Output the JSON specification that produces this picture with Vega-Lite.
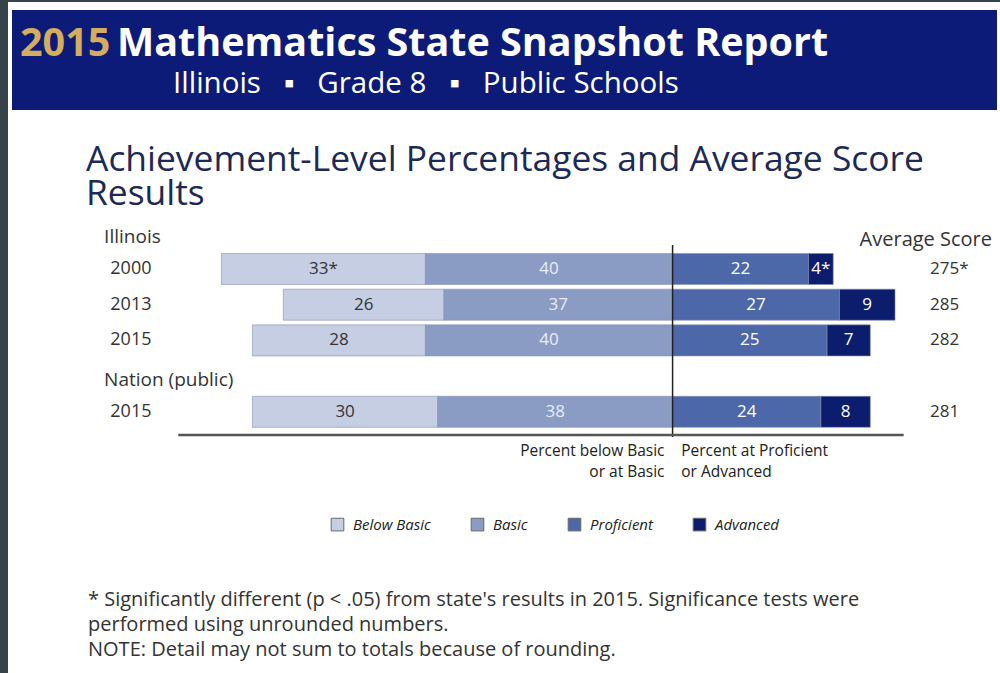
{
  "$schema": "https://vega.github.io/schema/vega-lite/v6.json",
  "width": 1000,
  "height": 673,
  "autosize": {"type": "fit", "contains": "padding"},
  "padding": 0,
  "background": "#ffffff",
  "config": {"view": {"stroke": null}, "font": "Open Sans", "text": {"font": "Open Sans"}},
  "datasets": {
    "levels": [
      {"row": "2000", "level": "Below Basic", "pct": -33, "label": "33*"},
      {"row": "2000", "level": "Basic", "pct": -40, "label": "40"},
      {"row": "2000", "level": "Proficient", "pct": 22, "label": "22"},
      {"row": "2000", "level": "Advanced", "pct": 4, "label": "4*"},
      {"row": "2013", "level": "Below Basic", "pct": -26, "label": "26"},
      {"row": "2013", "level": "Basic", "pct": -37, "label": "37"},
      {"row": "2013", "level": "Proficient", "pct": 27, "label": "27"},
      {"row": "2013", "level": "Advanced", "pct": 9, "label": "9"},
      {"row": "2015", "level": "Below Basic", "pct": -28, "label": "28"},
      {"row": "2015", "level": "Basic", "pct": -40, "label": "40"},
      {"row": "2015", "level": "Proficient", "pct": 25, "label": "25"},
      {"row": "2015", "level": "Advanced", "pct": 7, "label": "7"},
      {"row": "Nation 2015", "level": "Below Basic", "pct": -30, "label": "30"},
      {"row": "Nation 2015", "level": "Basic", "pct": -38, "label": "38"},
      {"row": "Nation 2015", "level": "Proficient", "pct": 24, "label": "24"},
      {"row": "Nation 2015", "level": "Advanced", "pct": 8, "label": "8"}
    ],
    "years": [
      {"row": "2000", "name": "2000"},
      {"row": "2013", "name": "2013"},
      {"row": "2015", "name": "2015"},
      {"row": "Nation 2015", "name": "2015"}
    ],
    "groups": [
      {"row": "Illinois"},
      {"row": "Nation (public)"}
    ],
    "scores": [
      {"row": "2000", "score": "275*"},
      {"row": "2013", "score": "285"},
      {"row": "2015", "score": "282"},
      {"row": "Nation 2015", "score": "281"}
    ]
  },
  "layer": [
    {
      "data": {"values": [{}]},
      "mark": {"type": "rect", "x": 0, "x2": 8, "y": 0, "y2": 673, "fill": "#37434b"},
      "encoding": {}
    },
    {
      "data": {"values": [{}]},
      "mark": {"type": "rect", "x": 0, "x2": 1000, "y": 0, "y2": 2, "fill": "#37434b"},
      "encoding": {}
    },
    {
      "data": {"values": [{}]},
      "mark": {"type": "rect", "x": 12, "x2": 997, "y": 10, "y2": 110, "fill": "#0d1b78"},
      "encoding": {}
    },
    {
      "data": {"values": [{}]},
      "mark": {"type": "text", "x": 20, "y": 56, "align": "left", "baseline": "alphabetic", "fontSize": 39.5, "fontWeight": "bold", "fill": "#d4ad5e", "text": "2015"},
      "encoding": {}
    },
    {
      "data": {"values": [{}]},
      "mark": {"type": "text", "x": 117, "y": 56, "align": "left", "baseline": "alphabetic", "fontSize": 39.5, "fontWeight": "bold", "fill": "#ffffff", "text": "Mathematics State Snapshot Report"},
      "encoding": {}
    },
    {
      "data": {"values": [{}]},
      "mark": {"type": "text", "x": 173, "y": 93, "align": "left", "baseline": "alphabetic", "fontSize": 29.5, "fill": "#ffffff", "text": "Illinois\u00a0\u00a0\u00a0▪\u00a0\u00a0\u00a0Grade 8\u00a0\u00a0\u00a0▪\u00a0\u00a0\u00a0Public Schools"},
      "encoding": {}
    },
    {
      "data": {"values": [{}]},
      "mark": {"type": "text", "x": 86, "y": 171, "align": "left", "baseline": "alphabetic", "fontSize": 35.4, "lineHeight": 33.5, "fill": "#1c2a57", "text": ["Achievement-Level Percentages and Average Score", "Results"]},
      "encoding": {}
    },
    {
      "data": {"name": "levels"},
      "transform": [
        {"filter": "datum.pct < 0"},
        {"stack": "pct", "groupby": ["row"], "sort": [{"field": "level", "order": "ascending"}], "as": ["x0", "x1"]}
      ],
      "layer": [
        {
          "mark": {"type": "bar", "stroke": "#8490ad", "strokeWidth": 0.6},
          "encoding": {
            "x": {"field": "x0", "type": "quantitative", "scale": {"domain": [-108.85, 52.99], "nice": false, "zero": false}, "axis": null},
            "x2": {"field": "x1"},
            "y": {"field": "row", "type": "nominal", "scale": {"domain": ["Illinois", "2000", "2013", "2015", "Nation (public)", "Nation 2015"], "range": [215.45, 429.65], "paddingInner": 0.13, "paddingOuter": 0.065}, "axis": null},
            "color": {
              "field": "level", "type": "nominal",
              "scale": {"domain": ["Below Basic", "Basic", "Proficient", "Advanced"], "range": ["#c5cee3", "#8a9bc4", "#4c68a8", "#0d1d6e"]},
              "legend": {"orient": "none", "legendX": 330, "legendY": 517, "direction": "horizontal", "title": null, "symbolType": "square", "symbolSize": 160, "symbolStrokeColor": "#6a6a6a", "symbolStrokeWidth": 1, "labelFont": "Open Sans", "labelFontStyle": "italic", "labelFontSize": 15, "labelColor": "#222222", "columnPadding": 38, "labelOffset": 8}
            }
          }
        },
        {
          "transform": [
            {"fold": ["x0", "x1"], "as": ["k", "v"]},
            {"aggregate": [{"op": "mean", "field": "v", "as": "mid"}], "groupby": ["row", "level", "label"]}
          ],
          "mark": {"type": "text", "fontSize": 17, "baseline": "middle", "align": "center"},
          "encoding": {
            "x": {"field": "mid", "type": "quantitative", "scale": {"domain": [-108.85, 52.99], "nice": false, "zero": false}, "axis": null},
            "y": {"field": "row", "type": "nominal", "scale": {"domain": ["Illinois", "2000", "2013", "2015", "Nation (public)", "Nation 2015"], "range": [215.45, 429.65], "paddingInner": 0.13, "paddingOuter": 0.065}, "axis": null},
            "text": {"field": "label"},
            "color": {"condition": {"test": "datum.level === 'Below Basic'", "value": "#333333"}, "value": "#e9edf5"}
          }
        }
      ]
    },
    {
      "data": {"name": "levels"},
      "transform": [
        {"filter": "datum.pct > 0"},
        {"stack": "pct", "groupby": ["row"], "sort": [{"field": "level", "order": "descending"}], "as": ["x0", "x1"]}
      ],
      "layer": [
        {
          "mark": {"type": "bar", "stroke": "#8490ad", "strokeWidth": 0.6},
          "encoding": {
            "x": {"field": "x0", "type": "quantitative", "scale": {"domain": [-108.85, 52.99], "nice": false, "zero": false}, "axis": null},
            "x2": {"field": "x1"},
            "y": {"field": "row", "type": "nominal", "scale": {"domain": ["Illinois", "2000", "2013", "2015", "Nation (public)", "Nation 2015"], "range": [215.45, 429.65], "paddingInner": 0.13, "paddingOuter": 0.065}, "axis": null},
            "color": {
              "field": "level", "type": "nominal",
              "scale": {"domain": ["Below Basic", "Basic", "Proficient", "Advanced"], "range": ["#c5cee3", "#8a9bc4", "#4c68a8", "#0d1d6e"]},
              "legend": {"orient": "none", "legendX": 330, "legendY": 517, "direction": "horizontal", "title": null, "symbolType": "square", "symbolSize": 160, "symbolStrokeColor": "#6a6a6a", "symbolStrokeWidth": 1, "labelFont": "Open Sans", "labelFontStyle": "italic", "labelFontSize": 15, "labelColor": "#222222", "columnPadding": 38, "labelOffset": 8}
            }
          }
        },
        {
          "transform": [
            {"fold": ["x0", "x1"], "as": ["k", "v"]},
            {"aggregate": [{"op": "mean", "field": "v", "as": "mid"}], "groupby": ["row", "level", "label"]}
          ],
          "mark": {"type": "text", "fontSize": 17, "baseline": "middle", "align": "center", "color": "#ffffff"},
          "encoding": {
            "x": {"field": "mid", "type": "quantitative", "scale": {"domain": [-108.85, 52.99], "nice": false, "zero": false}, "axis": null},
            "y": {"field": "row", "type": "nominal", "scale": {"domain": ["Illinois", "2000", "2013", "2015", "Nation (public)", "Nation 2015"], "range": [215.45, 429.65], "paddingInner": 0.13, "paddingOuter": 0.065}, "axis": null},
            "text": {"field": "label"}
          }
        }
      ]
    },
    {
      "data": {"values": [{}]},
      "mark": {"type": "rule", "y": 245, "y2": 437, "stroke": "#222222", "strokeWidth": 1.5},
      "encoding": {
        "x": {"datum": 0, "type": "quantitative", "scale": {"domain": [-108.85, 52.99], "nice": false, "zero": false}, "axis": null}
      }
    },
    {
      "data": {"values": [{}]},
      "mark": {"type": "rule", "y": 435, "stroke": "#555555", "strokeWidth": 2.5},
      "encoding": {
        "x": {"datum": -80, "type": "quantitative", "scale": {"domain": [-108.85, 52.99], "nice": false, "zero": false}, "axis": null},
        "x2": {"datum": 37.4}
      }
    },
    {
      "data": {"name": "years"},
      "mark": {"type": "text", "align": "left", "baseline": "middle", "fontSize": 18, "color": "#333333"},
      "encoding": {
        "x": {"datum": -91, "type": "quantitative", "scale": {"domain": [-108.85, 52.99], "nice": false, "zero": false}, "axis": null},
        "y": {"field": "row", "type": "nominal", "scale": {"domain": ["Illinois", "2000", "2013", "2015", "Nation (public)", "Nation 2015"], "range": [215.45, 429.65], "paddingInner": 0.13, "paddingOuter": 0.065}, "axis": null},
        "text": {"field": "name"}
      }
    },
    {
      "data": {"name": "groups"},
      "mark": {"type": "text", "align": "left", "baseline": "middle", "fontSize": 19, "color": "#333333", "dy": 4},
      "encoding": {
        "x": {"datum": -92, "type": "quantitative", "scale": {"domain": [-108.85, 52.99], "nice": false, "zero": false}, "axis": null},
        "y": {"field": "row", "type": "nominal", "scale": {"domain": ["Illinois", "2000", "2013", "2015", "Nation (public)", "Nation 2015"], "range": [215.45, 429.65], "paddingInner": 0.13, "paddingOuter": 0.065}, "axis": null},
        "text": {"field": "row"}
      }
    },
    {
      "data": {"name": "scores"},
      "mark": {"type": "text", "align": "left", "baseline": "middle", "fontSize": 17, "color": "#333333"},
      "encoding": {
        "x": {"datum": 41.66, "type": "quantitative", "scale": {"domain": [-108.85, 52.99], "nice": false, "zero": false}, "axis": null},
        "y": {"field": "row", "type": "nominal", "scale": {"domain": ["Illinois", "2000", "2013", "2015", "Nation (public)", "Nation 2015"], "range": [215.45, 429.65], "paddingInner": 0.13, "paddingOuter": 0.065}, "axis": null},
        "text": {"field": "score"}
      }
    },
    {
      "data": {"values": [{}]},
      "mark": {"type": "text", "align": "right", "baseline": "middle", "fontSize": 20, "color": "#333333", "dy": 7, "text": "Average Score"},
      "encoding": {
        "x": {"datum": 51.7, "type": "quantitative", "scale": {"domain": [-108.85, 52.99], "nice": false, "zero": false}, "axis": null},
        "y": {"datum": "Illinois", "type": "nominal", "scale": {"domain": ["Illinois", "2000", "2013", "2015", "Nation (public)", "Nation 2015"], "range": [215.45, 429.65], "paddingInner": 0.13, "paddingOuter": 0.065}, "axis": null}
      }
    },
    {
      "data": {"values": [{}]},
      "mark": {"type": "text", "align": "right", "baseline": "alphabetic", "y": 456, "fontSize": 15.5, "lineHeight": 21, "color": "#222222", "text": ["Percent below Basic", "or at Basic"]},
      "encoding": {
        "x": {"datum": -1.3, "type": "quantitative", "scale": {"domain": [-108.85, 52.99], "nice": false, "zero": false}, "axis": null}
      }
    },
    {
      "data": {"values": [{}]},
      "mark": {"type": "text", "align": "left", "baseline": "alphabetic", "y": 456, "fontSize": 15.5, "lineHeight": 21, "color": "#222222", "text": ["Percent at Proficient", "or Advanced"]},
      "encoding": {
        "x": {"datum": 1.4, "type": "quantitative", "scale": {"domain": [-108.85, 52.99], "nice": false, "zero": false}, "axis": null}
      }
    },
    {
      "data": {"values": [{}]},
      "mark": {"type": "text", "x": 88, "y": 606, "align": "left", "baseline": "alphabetic", "fontSize": 20, "lineHeight": 25, "fill": "#333333", "text": ["* Significantly different (p < .05) from state's results in 2015. Significance tests were", "performed using unrounded numbers.", "NOTE: Detail may not sum to totals because of rounding."]},
      "encoding": {}
    }
  ]
}
